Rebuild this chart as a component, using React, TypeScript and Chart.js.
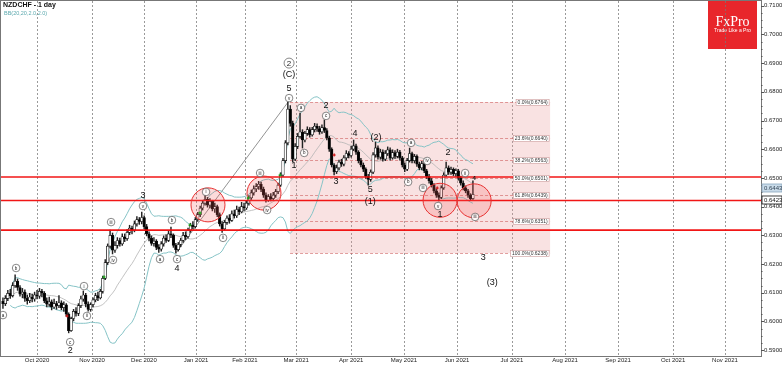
import React, { useEffect, useRef } from 'react';
import { Chart, registerables } from 'chart.js';

Chart.register(...registerables);
Chart.defaults.font.family = '"Liberation Sans", Arial, sans-serif';

// ---------- DATA ----------
// daily candles, index 0 = 1 Oct 2020 (trading-day index), first candle at index -14
const START_INDEX = -14;
const firstOpen = 0.607;
const closes = [
  0.6062, 0.6080, 0.6098, 0.6090, 0.6125, 0.6140,
  0.6118, 0.6095, 0.6102, 0.6080, 0.6072, 0.6085,
  0.6078, 0.6092, 0.6088, 0.6105, 0.6098,
  0.6072, 0.6060, 0.6068, 0.6050, 0.6062, 0.6055,
  0.6065, 0.6048, 0.6058, 0.6025, 0.5968,
  0.6010, 0.6035, 0.6028, 0.6055, 0.6078, 0.6092,
  0.6060, 0.6042, 0.6058, 0.6075, 0.6090, 0.6082, 0.6105,
  0.6150, 0.6205, 0.6262, 0.6300, 0.6248,
  0.6265, 0.6282, 0.6270, 0.6295, 0.6288, 0.6310, 0.6325, 0.6318,
  0.6340, 0.6355, 0.6348, 0.6362,
  0.6330, 0.6305, 0.6290, 0.6272, 0.6280, 0.6258, 0.6252,
  0.6270, 0.6290, 0.6282, 0.6305, 0.6300, 0.6265, 0.6250,
  0.6268, 0.6282, 0.6300, 0.6295, 0.6318, 0.6335, 0.6330, 0.6355, 0.6372, 0.6395,
  0.6412, 0.6425, 0.6405, 0.6418, 0.6392, 0.6400, 0.6372, 0.6340, 0.6322,
  0.6345, 0.6360, 0.6352, 0.6375, 0.6368, 0.6390, 0.6382, 0.6400, 0.6395, 0.6412,
  0.6430, 0.6448, 0.6462, 0.6470, 0.6478, 0.6460,
  0.6440, 0.6422, 0.6435, 0.6428, 0.6440, 0.6452,
  0.6475, 0.6510, 0.6560, 0.6622, 0.6740, 0.6690, 0.6565,
  0.6610, 0.6645, 0.6660, 0.6632, 0.6655, 0.6668, 0.6650,
  0.6668, 0.6680, 0.6672, 0.6660, 0.6675, 0.6665,
  0.6640, 0.6600, 0.6545, 0.6522,
  0.6535, 0.6555, 0.6548, 0.6570, 0.6585, 0.6578, 0.6600, 0.6612,
  0.6590, 0.6560, 0.6545, 0.6530, 0.6505, 0.6495, 0.6520,
  0.6580, 0.6605,
  0.6572, 0.6590, 0.6565, 0.6585, 0.6598, 0.6570, 0.6588, 0.6575, 0.6590, 0.6570,
  0.6545, 0.6530, 0.6560, 0.6585,
  0.6560, 0.6575, 0.6548, 0.6535, 0.6550,
  0.6525, 0.6505, 0.6490, 0.6475, 0.6455, 0.6440, 0.6432,
  0.6465, 0.6510, 0.6535, 0.6520, 0.6530, 0.6515, 0.6525,
  0.6500, 0.6482, 0.6465, 0.6455, 0.6440, 0.6428, 0.6443,
];
const highs = [
  0.6082, 0.6090, 0.6108, 0.6112, 0.6135, 0.6162,
  0.6148, 0.6125, 0.6115, 0.6110, 0.6092, 0.6098,
  0.6095, 0.6102, 0.6108, 0.6115, 0.6112,
  0.6104, 0.6082, 0.6085, 0.6075, 0.6078, 0.6070,
  0.6090, 0.6072, 0.6068, 0.6062, 0.6030,
  0.6015, 0.6042, 0.6048, 0.6062, 0.6088, 0.6106,
  0.6098, 0.6068, 0.6065, 0.6082, 0.6098, 0.6102, 0.6112,
  0.6158, 0.6215, 0.6270, 0.6318, 0.6308,
  0.6278, 0.6292, 0.6290, 0.6305, 0.6305, 0.6320, 0.6335, 0.6332,
  0.6350, 0.6365, 0.6362, 0.6381,
  0.6368, 0.6338, 0.6312, 0.6298, 0.6292, 0.6285, 0.6268,
  0.6278, 0.6298, 0.6302, 0.6315, 0.6329, 0.6305, 0.6272,
  0.6275, 0.6290, 0.6310, 0.6312, 0.6325, 0.6342, 0.6348, 0.6362, 0.6380, 0.6402,
  0.6422, 0.6440, 0.6432, 0.6428, 0.6422, 0.6412, 0.6405, 0.6378, 0.6348,
  0.6352, 0.6368, 0.6372, 0.6385, 0.6388, 0.6402, 0.6398, 0.6415, 0.6412, 0.6420,
  0.6438, 0.6458, 0.6472, 0.6480, 0.6488, 0.6485,
  0.6468, 0.6448, 0.6442, 0.6445, 0.6450, 0.6460,
  0.6482, 0.6518, 0.6568, 0.6630, 0.6764, 0.6752, 0.6698,
  0.6620, 0.6655, 0.6726, 0.6668, 0.6662, 0.6678, 0.6675,
  0.6676, 0.6690, 0.6688, 0.6680, 0.6685, 0.6702,
  0.6672, 0.6645, 0.6605, 0.6550,
  0.6545, 0.6562, 0.6565, 0.6578, 0.6595, 0.6592, 0.6610, 0.6632,
  0.6618, 0.6595, 0.6568, 0.6552, 0.6535, 0.6512, 0.6528,
  0.6588, 0.6625,
  0.6612, 0.6600, 0.6598, 0.6595, 0.6608, 0.6605, 0.6598, 0.6595, 0.6600, 0.6596,
  0.6575, 0.6552, 0.6568, 0.6604,
  0.6590, 0.6582, 0.6580, 0.6555, 0.6558,
  0.6555, 0.6530, 0.6512, 0.6498, 0.6480, 0.6462, 0.6448,
  0.6472, 0.6518, 0.6555, 0.6542, 0.6538, 0.6535, 0.6532,
  0.6530, 0.6505, 0.6490, 0.6472, 0.6460, 0.6445, 0.6490,
];
const lows = [
  0.6045, 0.6055, 0.6072, 0.6080, 0.6085, 0.6118,
  0.6108, 0.6088, 0.6082, 0.6070, 0.6060, 0.6065,
  0.6068, 0.6070, 0.6078, 0.6080, 0.6085,
  0.6065, 0.6050, 0.6052, 0.6040, 0.6045, 0.6042,
  0.6048, 0.6040, 0.6035, 0.6018, 0.5960,
  0.5965, 0.6002, 0.6018, 0.6020, 0.6048, 0.6070,
  0.6050, 0.6036, 0.6035, 0.6050, 0.6068, 0.6072, 0.6078,
  0.6098, 0.6145, 0.6198, 0.6255, 0.6235,
  0.6240, 0.6255, 0.6262, 0.6265, 0.6278, 0.6282, 0.6302, 0.6305,
  0.6312, 0.6332, 0.6338, 0.6340,
  0.6322, 0.6298, 0.6280, 0.6265, 0.6262, 0.6250, 0.6240,
  0.6245, 0.6262, 0.6275, 0.6278, 0.6292, 0.6258, 0.6238,
  0.6245, 0.6260, 0.6275, 0.6285, 0.6290, 0.6310, 0.6322, 0.6325, 0.6348, 0.6365,
  0.6388, 0.6405, 0.6398, 0.6395, 0.6385, 0.6380, 0.6365, 0.6332, 0.6310,
  0.6318, 0.6338, 0.6342, 0.6348, 0.6360, 0.6362, 0.6372, 0.6378, 0.6385, 0.6390,
  0.6405, 0.6425, 0.6440, 0.6452, 0.6460, 0.6452,
  0.6432, 0.6415, 0.6418, 0.6420, 0.6422, 0.6432,
  0.6445, 0.6470, 0.6505, 0.6552, 0.6615, 0.6680, 0.6555,
  0.6560, 0.6602, 0.6638, 0.6604, 0.6625, 0.6648, 0.6642,
  0.6645, 0.6660, 0.6662, 0.6652, 0.6655, 0.6658,
  0.6632, 0.6592, 0.6538, 0.6510,
  0.6515, 0.6528, 0.6540, 0.6542, 0.6562, 0.6570, 0.6572, 0.6595,
  0.6582, 0.6552, 0.6538, 0.6522, 0.6498, 0.6475, 0.6488,
  0.6515, 0.6572,
  0.6565, 0.6565, 0.6558, 0.6560, 0.6578, 0.6562, 0.6565, 0.6568, 0.6570, 0.6562,
  0.6538, 0.6522, 0.6525, 0.6555,
  0.6552, 0.6552, 0.6540, 0.6528, 0.6528,
  0.6518, 0.6498, 0.6482, 0.6468, 0.6448, 0.6432, 0.6420,
  0.6428, 0.6460, 0.6505, 0.6512, 0.6512, 0.6508, 0.6505,
  0.6492, 0.6475, 0.6458, 0.6448, 0.6432, 0.6422, 0.6425,
];

const monthTickIdx = [0, 22.6, 43.9, 65.3, 85.4, 106.4, 129, 150.7, 172.5, 195, 216.8, 238.6, 261.2, 282.5];
const monthLabels = ['Oct 2020', 'Nov 2020', 'Dec 2020', 'Jan 2021', 'Feb 2021', 'Mar 2021', 'Apr 2021', 'May 2021', 'Jun 2021', 'Jul 2021', 'Aug 2021', 'Sep 2021', 'Oct 2021', 'Nov 2021'];
const priceTicks = [0.59, 0.6, 0.61, 0.62, 0.63, 0.64, 0.65, 0.66, 0.67, 0.68, 0.69, 0.7, 0.71];

const X_MIN = -14.8;
const X_MAX = 297.3;
const Y_MIN = 0.58794;
const Y_MAX = 0.71164;

const keyLevels = [0.6503, 0.6421, 0.6318];
const fibHigh = 0.6764;
const fibLow = 0.6238;
const fibStartIdx = 103.9;
const fibEndIdx = 210.7;
const fibRatios = [0, 0.236, 0.382, 0.5, 0.618, 0.786, 1];

const lastPrice = 0.6443;
const markedPrice = 0.6423;

// wave labels [text, index, price]
const waveLabels: [string, number, number][] = [
  ['2', 13.6, 0.5897], ['3', 43.5, 0.6437], ['4', 57.5, 0.6183],
  ['(C)', 103.5, 0.6859], ['5', 103.5, 0.6813],
  ['1', 105.5, 0.6542], ['2', 118.7, 0.6751], ['3', 122.8, 0.6486], ['4', 130.6, 0.6656],
  ['5', 136.8, 0.6458], ['(1)', 136.8, 0.6416], ['(2)', 139.2, 0.6639],
  ['1', 165.5, 0.6371], ['2', 168.8, 0.6587], ['3', 183.2, 0.6221], ['(3)', 186.9, 0.6134],
];
const bigCircled: [string, number, number][] = [['2', 103.5, 0.6900]];
const circledLabels: [string, number, number][] = [
  ['a', -14, 0.6022], ['b', -8.6, 0.6186], ['c', 13.6, 0.5928],
  ['i', 19.3, 0.6123], ['ii', 20.5, 0.6019], ['iii', 30.4, 0.6346], ['iv', 31.2, 0.6214], ['v', 43.5, 0.6402],
  ['a', 50.5, 0.6217], ['b', 55.4, 0.6353], ['c', 57.5, 0.6217],
  ['i', 69.4, 0.6451], ['ii', 76.4, 0.6291], ['iii', 91.6, 0.6517], ['iv', 94.5, 0.6388], ['v', 103.5, 0.6778],
  ['a', 108.4, 0.6744], ['b', 109.7, 0.6587], ['c', 118.7, 0.6716],
  ['a', 153.6, 0.6622], ['iv', 160.2, 0.6559], ['b', 152.4, 0.6486], ['iii', 158.5, 0.6465], ['v', 164.7, 0.6402],
  ['ii', 175.8, 0.6517], ['iii', 179.9, 0.6364],
];
const smallLabels: [string, number, number][] = [['4', 179.5, 0.6498]];
const focusCircles: [number, number][] = [[70.2, 0.6406], [93.2, 0.6447], [165.5, 0.6422], [179.5, 0.642]];
const trendLine: [number, number][] = [[57.2, 0.6240], [103.6, 0.6770]];
const greenMarks: [number, number][] = [[27.5, 0.6155], [62.8, 0.6336], [66.9, 0.6378], [86.7, 0.643], [99.8, 0.651]];
const redMarks: [number, number][] = [[12.3, 0.6019], [122, 0.658], [164.3, 0.6465]];

// ---------- DERIVED ----------
const idx = closes.map((_, k) => START_INDEX + k);
const opens = closes.map((c, k) => (k === 0 ? firstOpen : closes[k - 1]));

function bollinger(values: number[], period: number, mult: number) {
  const up: (number | null)[] = [];
  const mid: (number | null)[] = [];
  const lo: (number | null)[] = [];
  values.forEach((_, k) => {
    const w = values.slice(Math.max(0, k - period + 1), k + 1);
    if (w.length < 4) { up.push(null); mid.push(null); lo.push(null); return; }
    const m = w.reduce((a, b) => a + b, 0) / w.length;
    const sd = Math.sqrt(w.reduce((a, b) => a + (b - m) * (b - m), 0) / w.length);
    mid.push(m); up.push(m + mult * sd); lo.push(m - mult * sd);
  });
  return { up, mid, lo };
}
const bb = bollinger(closes, 20, 2);

const circledText = (ctx: CanvasRenderingContext2D, t: string, x: number, y: number, r: number, fs: number) => {
  ctx.beginPath();
  ctx.arc(x, y, r, 0, Math.PI * 2);
  ctx.fillStyle = 'rgba(255,255,255,0.85)';
  ctx.fill();
  ctx.lineWidth = 0.7;
  ctx.strokeStyle = '#555';
  ctx.stroke();
  ctx.fillStyle = '#222';
  ctx.font = `${fs}px "Liberation Sans", Arial, sans-serif`;
  ctx.textAlign = 'center';
  ctx.textBaseline = 'middle';
  ctx.fillText(t, x, y + 0.3);
};

const overlayPlugin = {
  id: 'overlay',
  beforeDraw(chart: any) {
    const { ctx } = chart;
    ctx.save();
    ctx.fillStyle = '#fff';
    ctx.fillRect(0, 0, chart.width, chart.height);
    // logo
    ctx.fillStyle = '#e8262b';
    ctx.fillRect(708, 0, 49, 49);
    ctx.fillStyle = '#fff';
    ctx.textAlign = 'center';
    ctx.textBaseline = 'middle';
    ctx.font = '14px "Liberation Serif", "DejaVu Serif", serif';
    ctx.fillText('FxPro', 732.5, 22);
    ctx.font = '5px "Liberation Sans", Arial, sans-serif';
    ctx.fillText('Trade Like a Pro', 732.5, 31);
    ctx.restore();
  },
  beforeDatasetsDraw(chart: any) {
    const { ctx, chartArea: a, scales } = chart;
    const xs = scales.x, ys = scales.y;
    ctx.save();
    ctx.beginPath();
    ctx.rect(a.left, a.top, a.right - a.left, a.bottom - a.top);
    ctx.clip();
    // month grid lines (dashed)
    ctx.setLineDash([2, 2]);
    ctx.strokeStyle = 'rgba(120,120,120,0.75)';
    ctx.lineWidth = 1;
    monthTickIdx.forEach((v) => {
      const xx = Math.round(xs.getPixelForValue(v)) + 0.5;
      ctx.beginPath();
      ctx.moveTo(xx, a.top);
      ctx.lineTo(xx, a.bottom);
      ctx.stroke();
    });
    const x0 = xs.getPixelForValue(fibStartIdx), x1 = xs.getPixelForValue(fibEndIdx);
    const yT = ys.getPixelForValue(fibHigh), yB = ys.getPixelForValue(fibLow);
    ctx.setLineDash([]);
    ctx.fillStyle = 'rgba(232,150,150,0.28)';
    ctx.fillRect(x0, yT, x1 - x0, yB - yT);
    ctx.setLineDash([3, 2]);
    ctx.strokeStyle = 'rgba(205,95,95,0.6)';
    ctx.lineWidth = 1;
    fibRatios.forEach((r) => {
      const p = fibHigh - (fibHigh - fibLow) * r;
      const yy = Math.round(ys.getPixelForValue(p)) + 0.5;
      ctx.beginPath();
      ctx.moveTo(x0, yy);
      ctx.lineTo(x1, yy);
      ctx.stroke();
    });
    ctx.setLineDash([]);
    // trend line
    ctx.strokeStyle = '#777';
    ctx.lineWidth = 0.8;
    ctx.beginPath();
    ctx.moveTo(xs.getPixelForValue(trendLine[0][0]), ys.getPixelForValue(trendLine[0][1]));
    ctx.lineTo(xs.getPixelForValue(trendLine[1][0]), ys.getPixelForValue(trendLine[1][1]));
    ctx.stroke();
    ctx.restore();
  },
  afterDatasetsDraw(chart: any) {
    const { ctx, chartArea: a, scales } = chart;
    const xs = scales.x, ys = scales.y;
    ctx.save();
    ctx.beginPath();
    ctx.rect(a.left, a.top, a.right - a.left, a.bottom - a.top);
    ctx.clip();
    // key levels
    ctx.strokeStyle = 'rgba(240,10,10,0.95)';
    ctx.lineWidth = 1.6;
    keyLevels.forEach((p) => {
      const yy = ys.getPixelForValue(p);
      ctx.beginPath();
      ctx.moveTo(a.left, yy);
      ctx.lineTo(a.right, yy);
      ctx.stroke();
    });
    // focus circles
    focusCircles.forEach(([i, p]) => {
      ctx.beginPath();
      ctx.arc(xs.getPixelForValue(i), ys.getPixelForValue(p), 17, 0, Math.PI * 2);
      ctx.fillStyle = 'rgba(245,90,90,0.22)';
      ctx.fill();
      ctx.strokeStyle = '#e83030';
      ctx.lineWidth = 1;
      ctx.stroke();
    });
    // markers
    greenMarks.forEach(([i, p]) => {
      const x = xs.getPixelForValue(i), y = ys.getPixelForValue(p);
      ctx.fillStyle = '#1aa31a';
      ctx.fillRect(x - 1.5, y - 0.5, 3, 1.2);
      ctx.fillRect(x - 0.5, y - 1.5, 1.2, 3);
    });
    redMarks.forEach(([i, p]) => {
      const x = xs.getPixelForValue(i), y = ys.getPixelForValue(p);
      ctx.fillStyle = '#d01818';
      ctx.fillRect(x - 1.5, y - 0.5, 3, 1.2);
      ctx.fillRect(x - 0.5, y - 1.5, 1.2, 3);
    });
    // fib labels
    const x1 = xs.getPixelForValue(fibEndIdx);
    ctx.font = '5px "Liberation Sans", Arial, sans-serif';
    ctx.textBaseline = 'middle';
    ctx.textAlign = 'right';
    fibRatios.forEach((r) => {
      const p = fibHigh - (fibHigh - fibLow) * r;
      const yy = Math.round(ys.getPixelForValue(p)) + 0.5;
      const t = `${(r * 100).toFixed(1)}%(${p.toFixed(4)})`;
      const w = ctx.measureText(t).width + 3;
      ctx.fillStyle = '#fff';
      ctx.fillRect(x1 - 1 - w, yy - 3, w, 6);
      ctx.strokeStyle = '#c99';
      ctx.lineWidth = 0.6;
      ctx.strokeRect(x1 - 1 - w, yy - 3, w, 6);
      ctx.fillStyle = '#333';
      ctx.fillText(t, x1 - 2.5, yy + 0.3);
    });
    // wave labels
    ctx.fillStyle = '#111';
    ctx.textAlign = 'center';
    ctx.font = '9px "Liberation Sans", Arial, sans-serif';
    waveLabels.forEach(([t, i, p]) => {
      ctx.fillText(t, xs.getPixelForValue(i), ys.getPixelForValue(p));
    });
    ctx.font = 'bold 6px "Liberation Sans", Arial, sans-serif';
    smallLabels.forEach(([t, i, p]) => {
      ctx.fillText(t, xs.getPixelForValue(i), ys.getPixelForValue(p));
    });
    bigCircled.forEach(([t, i, p]) => circledText(ctx, t, xs.getPixelForValue(i), ys.getPixelForValue(p), 5, 8));
    circledLabels.forEach(([t, i, p]) => circledText(ctx, t, xs.getPixelForValue(i), ys.getPixelForValue(p), 3.8, 4.5));
    ctx.restore();
  },
  afterDraw(chart: any) {
    const { ctx, chartArea: a, scales } = chart;
    const ys = scales.y;
    ctx.save();
    // frame
    ctx.strokeStyle = '#777';
    ctx.lineWidth = 1;
    ctx.strokeRect(a.left - 0.5, a.top - 0.5, a.right - a.left + 1, a.bottom - a.top + 1);
    // y axis tick marks
    ctx.strokeStyle = '#555';
    for (let p = 0.59; p <= 0.7125; p += 0.0025) {
      const yy = Math.round(ys.getPixelForValue(p)) + 0.5;
      if (yy < a.top || yy > a.bottom) continue;
      const major = Math.abs(p * 100 - Math.round(p * 100)) < 1e-6;
      ctx.beginPath();
      ctx.moveTo(a.right, yy);
      ctx.lineTo(a.right + (major ? 3 : 1.5), yy);
      ctx.stroke();
    }
    // price boxes
    ctx.font = '6px "Liberation Sans", Arial, sans-serif';
    ctx.textAlign = 'left';
    ctx.textBaseline = 'middle';
    const yM = ys.getPixelForValue(markedPrice);
    const yL = Math.min(ys.getPixelForValue(lastPrice), yM - 12);
    ctx.fillStyle = '#c9dbe9';
    ctx.fillRect(a.right + 1, yL - 4, 20, 8);
    ctx.strokeStyle = '#8aa6bd';
    ctx.lineWidth = 0.8;
    ctx.strokeRect(a.right + 1, yL - 4, 20, 8);
    ctx.fillStyle = '#345';
    ctx.fillText(lastPrice.toFixed(4), a.right + 3, yL + 0.3);
    ctx.fillStyle = '#fff';
    ctx.fillRect(a.right + 1, yM - 4, 20, 8);
    ctx.strokeStyle = '#111';
    ctx.strokeRect(a.right + 1, yM - 4, 20, 8);
    ctx.fillStyle = '#111';
    ctx.fillText(markedPrice.toFixed(4), a.right + 3, yM + 0.3);
    // title
    ctx.textAlign = 'left';
    ctx.fillStyle = '#111';
    ctx.font = 'bold 7px "Liberation Sans", Arial, sans-serif';
    ctx.fillText('NZDCHF - 1 day', 3, 5.5);
    ctx.fillStyle = '#5aa8ad';
    ctx.font = '5.5px "Liberation Sans", Arial, sans-serif';
    ctx.fillText('BB(20,20,2.0,2.0)', 4, 13);
    ctx.restore();
  },
};

export default function App() {
  const ref = useRef<HTMLCanvasElement>(null);
  useEffect(() => {
    const canvas = ref.current;
    if (!canvas) return;
    const bodyColors = closes.map((c, k) => (c < opens[k] ? '#000' : '#fff'));
    const chart = new Chart(canvas, {
      type: 'bar',
      data: {
        datasets: [
          {
            type: 'bar',
            label: 'body',
            data: idx.map((x, k) => ({ x, y: [opens[k], closes[k]] })) as any,
            backgroundColor: bodyColors,
            borderColor: '#111',
            borderWidth: 0.7,
            borderSkipped: false,
            barThickness: 2.6,
            grouped: false,
            minBarLength: 1,
            order: 1,
          } as any,
          {
            type: 'bar',
            label: 'wick',
            data: idx.map((x, k) => ({ x, y: [lows[k], highs[k]] })) as any,
            backgroundColor: '#222',
            borderWidth: 0,
            barThickness: 0.8,
            grouped: false,
            order: 2,
          } as any,
          {
            type: 'line',
            label: 'bbUp',
            data: idx.map((x, k) => ({ x, y: bb.up[k] })) as any,
            borderColor: '#86c4c7',
            borderWidth: 1,
            pointRadius: 0,
            tension: 0,
            order: 3,
          } as any,
          {
            type: 'line',
            label: 'bbMid',
            data: idx.map((x, k) => ({ x, y: bb.mid[k] })) as any,
            borderColor: '#b4b4b4',
            borderWidth: 0.8,
            pointRadius: 0,
            tension: 0,
            order: 3,
          } as any,
          {
            type: 'line',
            label: 'bbLo',
            data: idx.map((x, k) => ({ x, y: bb.lo[k] })) as any,
            borderColor: '#86c4c7',
            borderWidth: 1,
            pointRadius: 0,
            tension: 0,
            order: 3,
          } as any,
        ],
      },
      options: {
        responsive: false,
        maintainAspectRatio: false,
        animation: false,
        devicePixelRatio: 1,
        events: [],
        layout: { padding: { left: 1, top: 1, right: 0, bottom: 0 } },
        plugins: { legend: { display: false }, tooltip: { enabled: false } },
        scales: {
          x: {
            type: 'linear',
            min: X_MIN,
            max: X_MAX,
            offset: false,
            afterBuildTicks: (s: any) => { s.ticks = monthTickIdx.map((v) => ({ value: v })); },
            afterFit: (s: any) => { s.height = 10; s.paddingLeft = 0; s.paddingRight = 0; },
            ticks: {
              autoSkip: false, maxRotation: 0, minRotation: 0, padding: 1,
              font: { size: 6 }, color: '#222',
              callback: (_v: any, i: number) => monthLabels[i] ?? '',
            },
            grid: { display: false, drawTicks: false, tickLength: 0 },
            border: { display: false },
          } as any,
          y: {
            type: 'linear',
            position: 'right',
            min: Y_MIN,
            max: Y_MAX,
            afterBuildTicks: (s: any) => { s.ticks = priceTicks.map((v) => ({ value: v })); },
            afterFit: (s: any) => { s.width = 21; s.paddingTop = 0; s.paddingBottom = 0; },
            ticks: { padding: 3, font: { size: 6 }, color: '#222', callback: (v: any) => Number(v).toFixed(4) },
            grid: { display: false, drawTicks: false },
            border: { display: false },
          } as any,
        },
      },
      plugins: [overlayPlugin as any],
    });
    return () => chart.destroy();
  }, []);
  return (
    <div style={{ position: 'fixed', left: 0, top: 0, width: 782, height: 366, background: '#fff' }}>
      <canvas ref={ref} width={782} height={366} style={{ display: 'block', width: 782, height: 366 }} />
    </div>
  );
}
